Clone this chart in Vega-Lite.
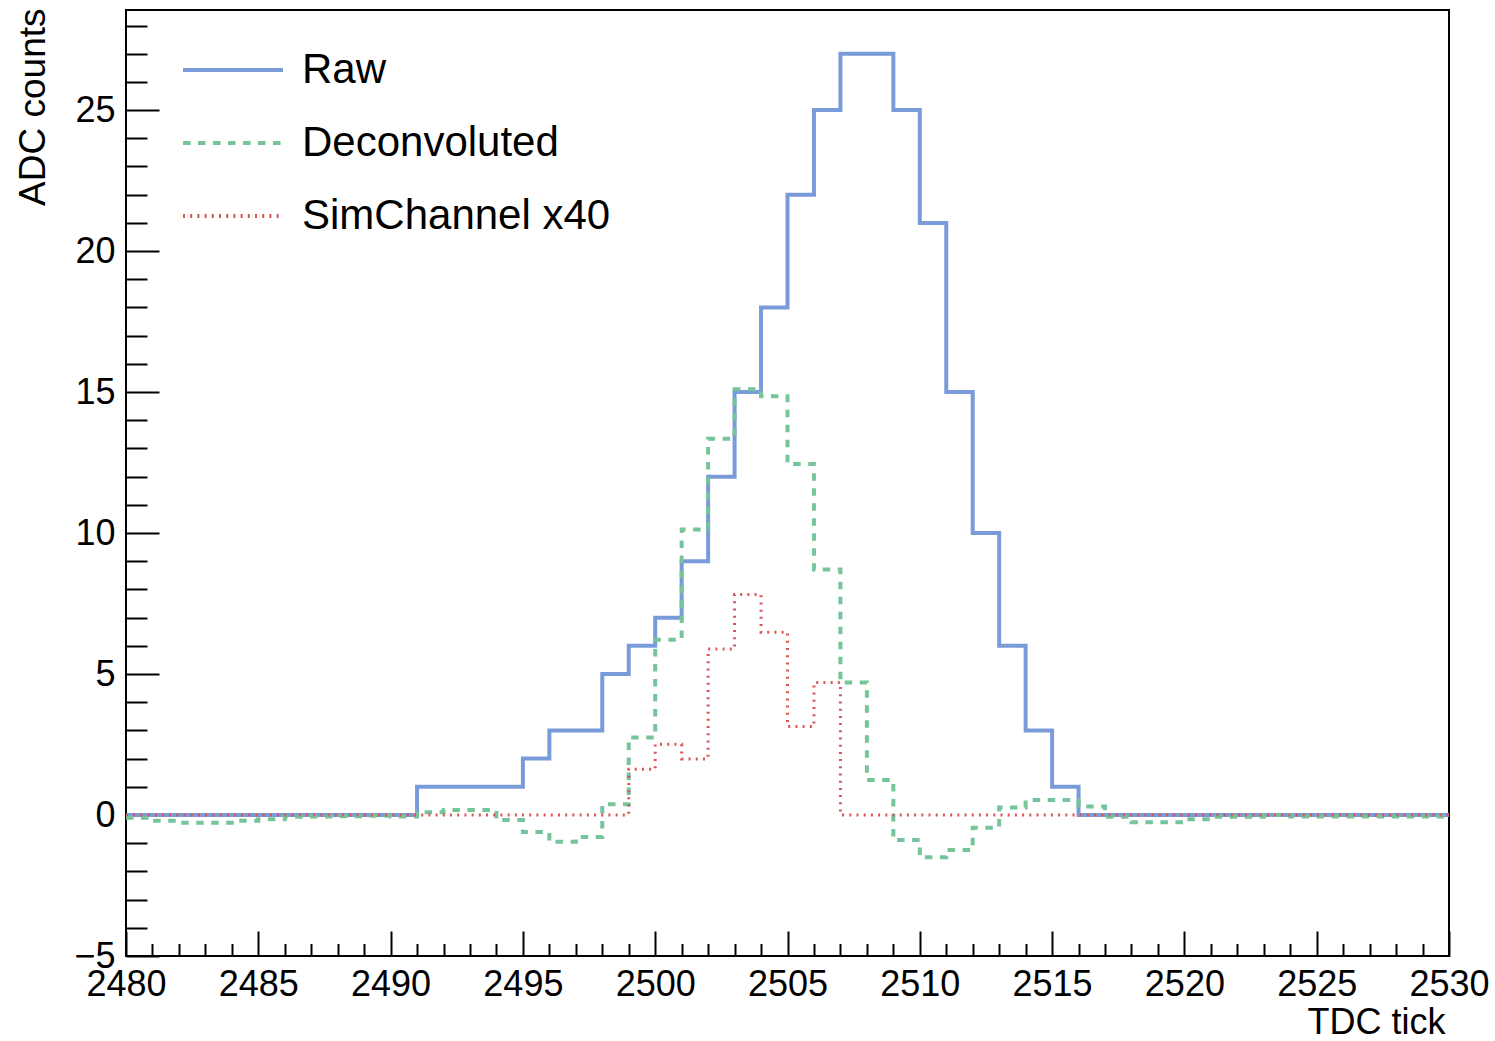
{
  "$schema": "https://vega.github.io/schema/vega-lite/v6.json",
  "width": 1323,
  "height": 946,
  "autosize": {"type": "none"},
  "padding": {"left": 126, "top": 10, "right": 46, "bottom": 85},
  "background": "white",
  "config": {
    "view": {"stroke": "black", "strokeWidth": 2},
    "font": "Liberation Sans",
    "legend": {
      "symbolType": "stroke",
      "symbolSize": 10000,
      "symbolStrokeWidth": 4,
      "labelFontSize": 42,
      "labelFont": "Liberation Sans",
      "labelColor": "black",
      "labelLimit": 0,
      "labelOffset": 17,
      "rowPadding": -4.5,
      "padding": 0
    }
  },
  "data": {
    "values": [
      {"series": "Raw", "tick": 2480, "value": 0},
      {"series": "Raw", "tick": 2481, "value": 0},
      {"series": "Raw", "tick": 2482, "value": 0},
      {"series": "Raw", "tick": 2483, "value": 0},
      {"series": "Raw", "tick": 2484, "value": 0},
      {"series": "Raw", "tick": 2485, "value": 0},
      {"series": "Raw", "tick": 2486, "value": 0},
      {"series": "Raw", "tick": 2487, "value": 0},
      {"series": "Raw", "tick": 2488, "value": 0},
      {"series": "Raw", "tick": 2489, "value": 0},
      {"series": "Raw", "tick": 2490, "value": 0},
      {"series": "Raw", "tick": 2491, "value": 1},
      {"series": "Raw", "tick": 2492, "value": 1},
      {"series": "Raw", "tick": 2493, "value": 1},
      {"series": "Raw", "tick": 2494, "value": 1},
      {"series": "Raw", "tick": 2495, "value": 2},
      {"series": "Raw", "tick": 2496, "value": 3},
      {"series": "Raw", "tick": 2497, "value": 3},
      {"series": "Raw", "tick": 2498, "value": 5},
      {"series": "Raw", "tick": 2499, "value": 6},
      {"series": "Raw", "tick": 2500, "value": 7},
      {"series": "Raw", "tick": 2501, "value": 9},
      {"series": "Raw", "tick": 2502, "value": 12},
      {"series": "Raw", "tick": 2503, "value": 15},
      {"series": "Raw", "tick": 2504, "value": 18},
      {"series": "Raw", "tick": 2505, "value": 22},
      {"series": "Raw", "tick": 2506, "value": 25},
      {"series": "Raw", "tick": 2507, "value": 27},
      {"series": "Raw", "tick": 2508, "value": 27},
      {"series": "Raw", "tick": 2509, "value": 25},
      {"series": "Raw", "tick": 2510, "value": 21},
      {"series": "Raw", "tick": 2511, "value": 15},
      {"series": "Raw", "tick": 2512, "value": 10},
      {"series": "Raw", "tick": 2513, "value": 6},
      {"series": "Raw", "tick": 2514, "value": 3},
      {"series": "Raw", "tick": 2515, "value": 1},
      {"series": "Raw", "tick": 2516, "value": 0},
      {"series": "Raw", "tick": 2517, "value": 0},
      {"series": "Raw", "tick": 2518, "value": 0},
      {"series": "Raw", "tick": 2519, "value": 0},
      {"series": "Raw", "tick": 2520, "value": 0},
      {"series": "Raw", "tick": 2521, "value": 0},
      {"series": "Raw", "tick": 2522, "value": 0},
      {"series": "Raw", "tick": 2523, "value": 0},
      {"series": "Raw", "tick": 2524, "value": 0},
      {"series": "Raw", "tick": 2525, "value": 0},
      {"series": "Raw", "tick": 2526, "value": 0},
      {"series": "Raw", "tick": 2527, "value": 0},
      {"series": "Raw", "tick": 2528, "value": 0},
      {"series": "Raw", "tick": 2529, "value": 0},
      {"series": "Raw", "tick": 2530, "value": 0},
      {"series": "Deconvoluted", "tick": 2480, "value": -0.1},
      {"series": "Deconvoluted", "tick": 2481, "value": -0.2},
      {"series": "Deconvoluted", "tick": 2482, "value": -0.27},
      {"series": "Deconvoluted", "tick": 2483, "value": -0.27},
      {"series": "Deconvoluted", "tick": 2484, "value": -0.2},
      {"series": "Deconvoluted", "tick": 2485, "value": -0.15},
      {"series": "Deconvoluted", "tick": 2486, "value": -0.06},
      {"series": "Deconvoluted", "tick": 2487, "value": -0.05},
      {"series": "Deconvoluted", "tick": 2488, "value": -0.04},
      {"series": "Deconvoluted", "tick": 2489, "value": -0.03},
      {"series": "Deconvoluted", "tick": 2490, "value": -0.05},
      {"series": "Deconvoluted", "tick": 2491, "value": 0.1},
      {"series": "Deconvoluted", "tick": 2492, "value": 0.18},
      {"series": "Deconvoluted", "tick": 2493, "value": 0.18},
      {"series": "Deconvoluted", "tick": 2494, "value": -0.18},
      {"series": "Deconvoluted", "tick": 2495, "value": -0.6},
      {"series": "Deconvoluted", "tick": 2496, "value": -0.95},
      {"series": "Deconvoluted", "tick": 2497, "value": -0.78},
      {"series": "Deconvoluted", "tick": 2498, "value": 0.38},
      {"series": "Deconvoluted", "tick": 2499, "value": 2.75},
      {"series": "Deconvoluted", "tick": 2500, "value": 6.22},
      {"series": "Deconvoluted", "tick": 2501, "value": 10.13},
      {"series": "Deconvoluted", "tick": 2502, "value": 13.34},
      {"series": "Deconvoluted", "tick": 2503, "value": 15.1},
      {"series": "Deconvoluted", "tick": 2504, "value": 14.85},
      {"series": "Deconvoluted", "tick": 2505, "value": 12.45},
      {"series": "Deconvoluted", "tick": 2506, "value": 8.71},
      {"series": "Deconvoluted", "tick": 2507, "value": 4.7},
      {"series": "Deconvoluted", "tick": 2508, "value": 1.24},
      {"series": "Deconvoluted", "tick": 2509, "value": -0.89},
      {"series": "Deconvoluted", "tick": 2510, "value": -1.5},
      {"series": "Deconvoluted", "tick": 2511, "value": -1.24},
      {"series": "Deconvoluted", "tick": 2512, "value": -0.45},
      {"series": "Deconvoluted", "tick": 2513, "value": 0.27},
      {"series": "Deconvoluted", "tick": 2514, "value": 0.53},
      {"series": "Deconvoluted", "tick": 2515, "value": 0.53},
      {"series": "Deconvoluted", "tick": 2516, "value": 0.3},
      {"series": "Deconvoluted", "tick": 2517, "value": -0.06},
      {"series": "Deconvoluted", "tick": 2518, "value": -0.26},
      {"series": "Deconvoluted", "tick": 2519, "value": -0.26},
      {"series": "Deconvoluted", "tick": 2520, "value": -0.15},
      {"series": "Deconvoluted", "tick": 2521, "value": -0.06},
      {"series": "Deconvoluted", "tick": 2522, "value": -0.06},
      {"series": "Deconvoluted", "tick": 2523, "value": 0.0},
      {"series": "Deconvoluted", "tick": 2524, "value": -0.05},
      {"series": "Deconvoluted", "tick": 2525, "value": -0.05},
      {"series": "Deconvoluted", "tick": 2526, "value": -0.05},
      {"series": "Deconvoluted", "tick": 2527, "value": -0.05},
      {"series": "Deconvoluted", "tick": 2528, "value": -0.05},
      {"series": "Deconvoluted", "tick": 2529, "value": -0.05},
      {"series": "Deconvoluted", "tick": 2530, "value": -0.05},
      {"series": "SimChannel x40", "tick": 2480, "value": 0},
      {"series": "SimChannel x40", "tick": 2481, "value": 0},
      {"series": "SimChannel x40", "tick": 2482, "value": 0},
      {"series": "SimChannel x40", "tick": 2483, "value": 0},
      {"series": "SimChannel x40", "tick": 2484, "value": 0},
      {"series": "SimChannel x40", "tick": 2485, "value": 0},
      {"series": "SimChannel x40", "tick": 2486, "value": 0},
      {"series": "SimChannel x40", "tick": 2487, "value": 0},
      {"series": "SimChannel x40", "tick": 2488, "value": 0},
      {"series": "SimChannel x40", "tick": 2489, "value": 0},
      {"series": "SimChannel x40", "tick": 2490, "value": 0},
      {"series": "SimChannel x40", "tick": 2491, "value": 0},
      {"series": "SimChannel x40", "tick": 2492, "value": 0},
      {"series": "SimChannel x40", "tick": 2493, "value": 0},
      {"series": "SimChannel x40", "tick": 2494, "value": 0},
      {"series": "SimChannel x40", "tick": 2495, "value": 0},
      {"series": "SimChannel x40", "tick": 2496, "value": 0},
      {"series": "SimChannel x40", "tick": 2497, "value": 0},
      {"series": "SimChannel x40", "tick": 2498, "value": 0},
      {"series": "SimChannel x40", "tick": 2499, "value": 1.62},
      {"series": "SimChannel x40", "tick": 2500, "value": 2.51},
      {"series": "SimChannel x40", "tick": 2501, "value": 1.99},
      {"series": "SimChannel x40", "tick": 2502, "value": 5.89},
      {"series": "SimChannel x40", "tick": 2503, "value": 7.82},
      {"series": "SimChannel x40", "tick": 2504, "value": 6.48},
      {"series": "SimChannel x40", "tick": 2505, "value": 3.14},
      {"series": "SimChannel x40", "tick": 2506, "value": 4.7},
      {"series": "SimChannel x40", "tick": 2507, "value": 0},
      {"series": "SimChannel x40", "tick": 2508, "value": 0},
      {"series": "SimChannel x40", "tick": 2509, "value": 0},
      {"series": "SimChannel x40", "tick": 2510, "value": 0},
      {"series": "SimChannel x40", "tick": 2511, "value": 0},
      {"series": "SimChannel x40", "tick": 2512, "value": 0},
      {"series": "SimChannel x40", "tick": 2513, "value": 0},
      {"series": "SimChannel x40", "tick": 2514, "value": 0},
      {"series": "SimChannel x40", "tick": 2515, "value": 0},
      {"series": "SimChannel x40", "tick": 2516, "value": 0},
      {"series": "SimChannel x40", "tick": 2517, "value": 0},
      {"series": "SimChannel x40", "tick": 2518, "value": 0},
      {"series": "SimChannel x40", "tick": 2519, "value": 0},
      {"series": "SimChannel x40", "tick": 2520, "value": 0},
      {"series": "SimChannel x40", "tick": 2521, "value": 0},
      {"series": "SimChannel x40", "tick": 2522, "value": 0},
      {"series": "SimChannel x40", "tick": 2523, "value": 0},
      {"series": "SimChannel x40", "tick": 2524, "value": 0},
      {"series": "SimChannel x40", "tick": 2525, "value": 0},
      {"series": "SimChannel x40", "tick": 2526, "value": 0},
      {"series": "SimChannel x40", "tick": 2527, "value": 0},
      {"series": "SimChannel x40", "tick": 2528, "value": 0},
      {"series": "SimChannel x40", "tick": 2529, "value": 0},
      {"series": "SimChannel x40", "tick": 2530, "value": 0}
    ]
  },
  "encoding": {
    "x": {
      "field": "tick",
      "type": "quantitative",
      "scale": {"domain": [2480, 2530], "nice": false, "zero": false},
      "axis": {
        "title": "TDC tick",
        "values": [2480,2481,2482,2483,2484,2485,2486,2487,2488,2489,2490,2491,2492,2493,2494,2495,2496,2497,2498,2499,2500,2501,2502,2503,2504,2505,2506,2507,2508,2509,2510,2511,2512,2513,2514,2515,2516,2517,2518,2519,2520,2521,2522,2523,2524,2525,2526,2527,2528,2529,2530],
        "format": "d",
        "labelExpr": "datum.value % 5 === 0 ? datum.label : ''",
        "tickSize": {"condition": {"test": "datum.value % 5 === 0", "value": -25}, "value": -12.5},
        "tickColor": "black",
        "tickWidth": 2,
        "domain": false,
        "grid": false,
        "labelFont": "Liberation Sans",
        "labelFontSize": 36,
        "labelColor": "black",
        "labelBaseline": "alphabetic",
        "labelPadding": 64,
        "labelFlush": false,
        "labelOverlap": false,
        "titleFont": "Liberation Sans",
        "titleFontSize": 36,
        "titleFontWeight": "normal",
        "titleColor": "black",
        "titleAlign": "right",
        "titleAnchor": "end",
        "titleBaseline": "alphabetic",
        "titleX": 1319,
        "titleY": 77
      }
    },
    "y": {
      "field": "value",
      "type": "quantitative",
      "scale": {"domain": [-5, 28.55], "nice": false, "zero": false},
      "axis": {
        "title": "ADC counts",
        "values": [-5,-4,-3,-2,-1,0,1,2,3,4,5,6,7,8,9,10,11,12,13,14,15,16,17,18,19,20,21,22,23,24,25,26,27,28],
        "labelExpr": "datum.value % 5 === 0 ? (datum.value < 0 ? '\u22125' : datum.label) : ''",
        "tickSize": {"condition": {"test": "datum.value % 5 === 0", "value": -33}, "value": -21},
        "tickColor": "black",
        "tickWidth": 2,
        "domain": false,
        "grid": false,
        "labelFont": "Liberation Sans",
        "labelFontSize": 36,
        "labelColor": "black",
        "labelPadding": 44,
        "labelFlush": false,
        "labelOverlap": false,
        "titleFont": "Liberation Sans",
        "titleFontSize": 37,
        "titleFontWeight": "normal",
        "titleColor": "black",
        "titleAngle": -90,
        "titleAlign": "right",
        "titleAnchor": "end",
        "titleBaseline": "alphabetic",
        "titleX": -82,
        "titleY": -2
      }
    },
    "color": {
      "field": "series",
      "type": "nominal",
      "scale": {"domain": ["Raw", "Deconvoluted", "SimChannel x40"], "range": ["#7a9bd9", "#76c49a", "#dc5555"]},
      "legend": {"title": null, "orient": "none", "legendX": 55, "legendY": 8}
    },
    "strokeDash": {
      "field": "series",
      "type": "nominal",
      "scale": {"domain": ["Raw", "Deconvoluted", "SimChannel x40"], "range": [[1, 0], [7.5, 7.5], [2, 5.2]]},
      "legend": {"title": null, "orient": "none", "legendX": 55, "legendY": 8}
    }
  },
  "layer": [
    {
      "transform": [{"filter": "datum.series === 'Raw'"}],
      "mark": {"type": "line", "interpolate": "step-after", "strokeWidth": 4}
    },
    {
      "transform": [{"filter": "datum.series === 'Deconvoluted'"}],
      "mark": {"type": "line", "interpolate": "step-after", "strokeWidth": 4}
    },
    {
      "transform": [{"filter": "datum.series === 'SimChannel x40'"}],
      "mark": {"type": "line", "interpolate": "step-after", "strokeWidth": 3}
    }
  ]
}
